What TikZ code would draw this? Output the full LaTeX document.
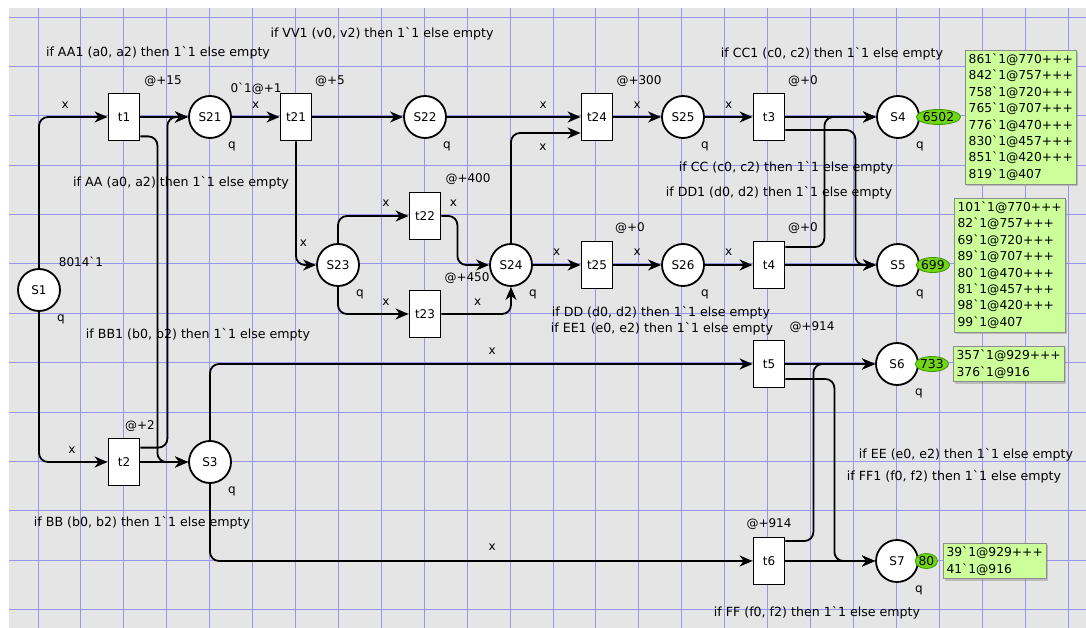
\documentclass[tikz,border=0pt]{standalone}
\usepackage{fontspec}
\setmainfont{DejaVu Sans}
\usepackage{tikz}
\usetikzlibrary{arrows.meta,calc,positioning,shapes.geometric,shadows}
\definecolor{sheetGray}{RGB}{229,229,229}
\definecolor{gridBlue}{RGB}{150,150,240}
\definecolor{markFill}{RGB}{204,255,153}
\definecolor{tokFill}{RGB}{112,214,24}
\definecolor{tokDraw}{RGB}{62,150,0}
\newcommand{\gq}{\textasciigrave}
\tikzset{
  netGrid/.style={gridBlue, line width=1.2pt},
  netPlace/.style={draw, circle, line width=1.8pt, fill=white, minimum size=42pt, inner sep=0pt, font=\fontsize{12}{14}\selectfont},
  netTrans/.style={draw, rectangle, line width=1.8pt, fill=white, minimum width=31pt, minimum height=47pt, inner sep=0pt, font=\fontsize{12}{14}\selectfont},
  netArc/.style={-{Stealth[length=13pt,width=11pt,inset=4pt]}, line width=1.8pt, rounded corners=9pt},
  netX/.style={inner sep=0pt, font=\fontsize{12}{14}\selectfont},
  netLabel/.style={inner sep=0pt, font=\fontsize{12}{14}\selectfont},
  netGuard/.style={inner sep=0pt, font=\fontsize{12.6}{15}\selectfont},
  netToken/.style={draw=tokDraw, line width=0.8pt, fill=tokFill, ellipse, inner sep=0pt, minimum height=15pt, font=\fontsize{12.3}{14}\selectfont},
  netMarking/.style={draw=black!45, fill=markFill, align=left, inner sep=3.5pt, font=\fontsize{12.3}{16.4}\selectfont, drop shadow={shadow xshift=2pt, shadow yshift=-2pt, opacity=0.4}}
}

\begin{document}
\begin{tikzpicture}[x=1pt, y=-1pt]
  \useasboundingbox (0,0) rectangle (1086,628);
  \fill[sheetGray] (9,8) rectangle (1086,628);
  \foreach \gx in {0,...,24}
    \draw[netGrid] ({int(38+42.92*\gx)+0.5},8) -- ({int(38+42.92*\gx)+0.5},628);
  \foreach \gy in {0,...,12}
    \draw[netGrid] (9,{int(17+49.4*\gy)+0.5}) -- (1086,{int(17+49.4*\gy)+0.5});

  % places
  \node[netPlace] (S1) at (39,290) {S1};
  \node[netPlace] (S21) at (210,117) {S21};
  \node[netPlace] (S22) at (425,117) {S22};
  \node[netPlace] (S23) at (338,265) {S23};
  \node[netPlace] (S24) at (511,265) {S24};
  \node[netPlace] (S25) at (683,117) {S25};
  \node[netPlace] (S26) at (683,265) {S26};
  \node[netPlace] (S3) at (210,462) {S3};
  \node[netPlace] (S4) at (898,117) {S4};
  \node[netPlace] (S5) at (898,265) {S5};
  \node[netPlace] (S6) at (897,364) {S6};
  \node[netPlace] (S7) at (897,561) {S7};

  % transitions
  \node[netTrans] (t1) at (124,117) {t1};
  \node[netTrans] (t21) at (296,117) {t21};
  \node[netTrans] (t22) at (425,216) {t22};
  \node[netTrans] (t23) at (425,314) {t23};
  \node[netTrans] (t24) at (597,117) {t24};
  \node[netTrans] (t25) at (597,265) {t25};
  \node[netTrans] (t2) at (124,462) {t2};
  \node[netTrans] (t3) at (769,117) {t3};
  \node[netTrans] (t4) at (769,265) {t4};
  \node[netTrans] (t5) at (769,364) {t5};
  \node[netTrans] (t6) at (769,561) {t6};

  % arcs
  \draw[netArc] (S1) |- node[netX, pos=0.69, above=8pt] (x1) {x} (t1);
  \draw[netArc] (S1) |- node[netX, pos=0.74, above=8pt] (x2) {x} (t2);
  \draw[netArc] (t1) -- (S21);
  \draw[netArc] ([yshift=-10pt]t2.north east) -- ++(27,0) |- (S21);
  \draw[netArc] ([yshift=5pt]t1.south east) -- ++(17,0) |- (S3);
  \draw[netArc] (t2) -- (S3);
  \draw[netArc] (S21) -- node[netX, above=8pt] (x3) {x} (t21);
  \draw[netArc] (t21) -- (S22);
  \draw[netArc] (t21) |- node[netX, pos=0.41, right=3pt] (x4) {x} (S23);
  \draw[netArc] (S23) |- node[netX, pos=0.84, above=9pt] (x5) {x} (t22);
  \draw[netArc] (S23) |- node[netX, pos=0.84, above=8pt] (x6) {x} (t23);
  \draw[netArc] (t22.east) -- node[netX, pos=0.75, above=9pt] (x7) {x} ++(16,0) |- (S24);
  \draw[netArc] (t23) -| node[netX, pos=0.26, above=8pt] (x8) {x} (S24);
  \draw[netArc] (S22) -- node[netX, pos=0.72, above=8pt] (x9) {x} (t24);
  \draw[netArc] (S24) |- node[netX, pos=0.73, below=10pt] (x10) {x} ([yshift=-16pt]t24.west);
  \draw[netArc] (t24) -- node[netX, above=8pt] (x11) {x} (S25);
  \draw[netArc] (S25) -- node[netX, above=8pt] (x12) {x} (t3);
  \draw[netArc] (S24) -- node[netX, above=9pt] (x13) {x} (t25);
  \draw[netArc] (t25) -- node[netX, above=9pt] (x14) {x} (S26);
  \draw[netArc] (S26) -- node[netX, above=9pt] (x15) {x} (t4);
  \draw[netArc] (t3) -- (S4);
  \draw[netArc] ([yshift=-13pt]t3.east) -- ++(70,0) |- (S5);
  \draw[netArc] (t4) -- (S5);
  \draw[netArc] ([yshift=18pt]t4.east) -- ++(39,0) |- (S4);
  \draw[netArc] (S3) |- node[netX, pos=0.76, above=9pt] (x16) {x} (t5);
  \draw[netArc] (S3) |- node[netX, pos=0.76, above=10pt] (x17) {x} (t6);
  \draw[netArc] (t5) -- (S6);
  \draw[netArc] ([yshift=-15pt]t5.east) -- ++(49,0) |- (S7);
  \draw[netArc] (t6) -- (S7);
  \draw[netArc] ([yshift=20pt]t6.east) -- ++(28,0) |- (S6);

  % initial markings and delays
  \node[netLabel] (m1) at (81,262) {8014\gq1};
  \node[netLabel] (m21) at (256,89) {0\gq1@+1};
  \node[netLabel] (d1) at (163,81) {@+15};
  \node[netLabel] (d21) at (330,81) {@+5};
  \node[netLabel] (d24) at (639,81) {@+300};
  \node[netLabel] (d22) at (468,179) {@+400};
  \node[netLabel] (d23) at (467,278) {@+450};
  \node[netLabel] (d25) at (630,228) {@+0};
  \node[netLabel] (d3) at (803,81) {@+0};
  \node[netLabel] (d4) at (803,228) {@+0};
  \node[netLabel] (d5) at (812,327) {@+914};
  \node[netLabel] (d6) at (769,524) {@+914};
  \node[netLabel] (d2) at (140,426) {@+2};
  \foreach \p in {S1,S21,S22,S23,S24,S25,S26,S3,S4,S5,S6,S7}
    \node[netLabel] (q\p) at ($(\p)+(22,29)$) {q};

  % guards
  \node[netGuard] (gVV1) at (382,34) {if VV1 (v0, v2) then 1\gq1 else empty};
  \node[netGuard] (gAA1) at (158,53) {if AA1 (a0, a2) then 1\gq1 else empty};
  \node[netGuard] (gAA) at (181,183) {if AA (a0, a2) then 1\gq1 else empty};
  \node[netGuard] (gBB1) at (198,335) {if BB1 (b0, b2) then 1\gq1 else empty};
  \node[netGuard] (gBB) at (142,523) {if BB (b0, b2) then 1\gq1 else empty};
  \node[netGuard] (gCC1) at (832,54) {if CC1 (c0, c2) then 1\gq1 else empty};
  \node[netGuard] (gCC) at (786,168) {if CC (c0, c2) then 1\gq1 else empty};
  \node[netGuard] (gDD1) at (779,193) {if DD1 (d0, d2) then 1\gq1 else empty};
  \node[netGuard] (gDD) at (661,313) {if DD (d0, d2) then 1\gq1 else empty};
  \node[netGuard] (gEE1) at (662,329) {if EE1 (e0, e2) then 1\gq1 else empty};
  \node[netGuard] (gEE) at (966,455) {if EE (e0, e2) then 1\gq1 else empty};
  \node[netGuard] (gFF1) at (954,477) {if FF1 (f0, f2) then 1\gq1 else empty};
  \node[netGuard] (gFF) at (817,613) {if FF (f0, f2) then 1\gq1 else empty};

  % tokens
  \node[netToken, right=-4pt of S4] (tok4) {6502};
  \node[netToken, right=-4pt of S5] (tok5) {699};
  \node[netToken, right=-4pt of S6] (tok6) {733};
  \node[netToken, right=-4pt of S7] (tok7) {80};
  \node[netMarking, right=4pt of tok4] (mk4) {861\gq1@770+++\\842\gq1@757+++\\758\gq1@720+++\\765\gq1@707+++\\776\gq1@470+++\\830\gq1@457+++\\851\gq1@420+++\\819\gq1@407};
  \node[netMarking, right=4pt of tok5] (mk5) {101\gq1@770+++\\82\gq1@757+++\\69\gq1@720+++\\89\gq1@707+++\\80\gq1@470+++\\81\gq1@457+++\\98\gq1@420+++\\99\gq1@407};
  \node[netMarking, right=4pt of tok6] (mk6) {357\gq1@929+++\\376\gq1@916};
  \node[netMarking, right=5pt of tok7] (mk7) {39\gq1@929+++\\41\gq1@916};
\end{tikzpicture}
\end{document}
